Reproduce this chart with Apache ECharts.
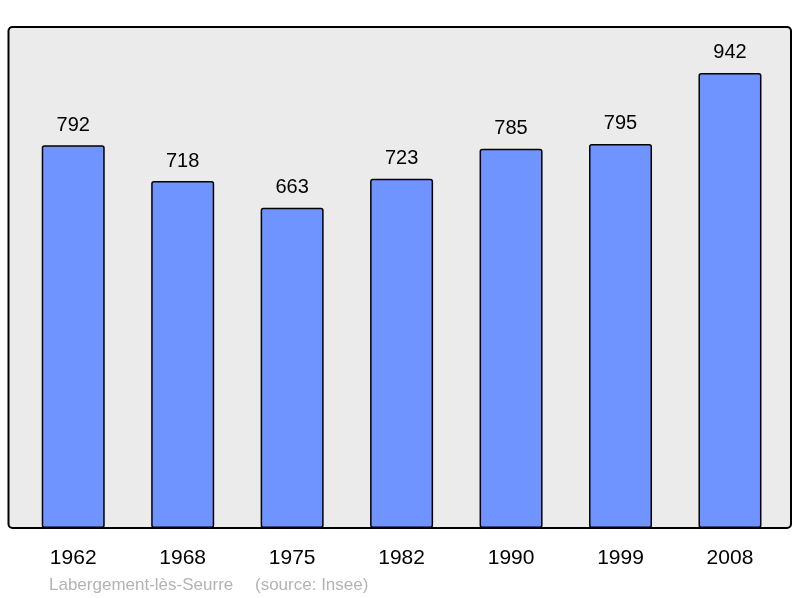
<!DOCTYPE html>
<html>
<head>
<meta charset="utf-8">
<script src="https://cdn.jsdelivr.net/npm/echarts@6/dist/echarts.min.js"></script>
<style>
  html, body { margin: 0; padding: 0; background: #fff; }
  #main { width: 800px; height: 598px; }
</style>
</head>
<body>
<div id="main"></div>
<script>
var years = ['1962', '1968', '1975', '1982', '1990', '1999', '2008'];
var population = [792, 718, 663, 723, 785, 795, 942];
var placeName = 'Labergement-lès-Seurre';
var sourceText = '(source: Insee)';

var barColor = '#7094ff';
var fontName = '"Liberation Sans", Arial, sans-serif';

var myChart = echarts.init(document.getElementById('main'));
var option = {
  animation: false,
  backgroundColor: '#ffffff',
  grid: {
    left: 18.5,   // bandes des catégories
    right: 15.3,
    top: 27,
    bottom: 70
  },
  graphic: [{
    type: 'rect',
    z: -10,
    shape: { x: 8.5, y: 27, width: 782.5, height: 501, r: 4 },
    style: { fill: '#ebebeb', stroke: '#000000', lineWidth: 2 }
  }, {
    type: 'text',
    left: 49,
    top: 577,
    style: { text: placeName, fill: '#b3b3b3', font: '17px ' + fontName }
  }, {
    type: 'text',
    left: 255,
    top: 577,
    style: { text: sourceText, fill: '#b3b3b3', font: '17px ' + fontName }
  }],
  xAxis: {
    type: 'category',
    data: years,
    axisLine: { show: false },
    axisTick: { show: false },
    axisLabel: {
      color: '#000000',
      fontSize: 21,
      fontFamily: fontName,
      margin: 20,
      interval: 0
    }
  },
  yAxis: {
    type: 'value',
    min: 0,
    max: 1037,
    show: false,
    splitLine: { show: false }
  },
  series: [{
    type: 'bar',
    data: population,
    barWidth: 63,
    itemStyle: {
      color: barColor,
      borderColor: '#000000',
      borderWidth: 1.5,
      borderRadius: 2
    },
    label: {
      show: true,
      position: 'top',
      distance: 10,
      color: '#000000',
      fontSize: 20,
      fontFamily: fontName
    }
  }]
};
myChart.setOption(option);
</script>
</body>
</html>
